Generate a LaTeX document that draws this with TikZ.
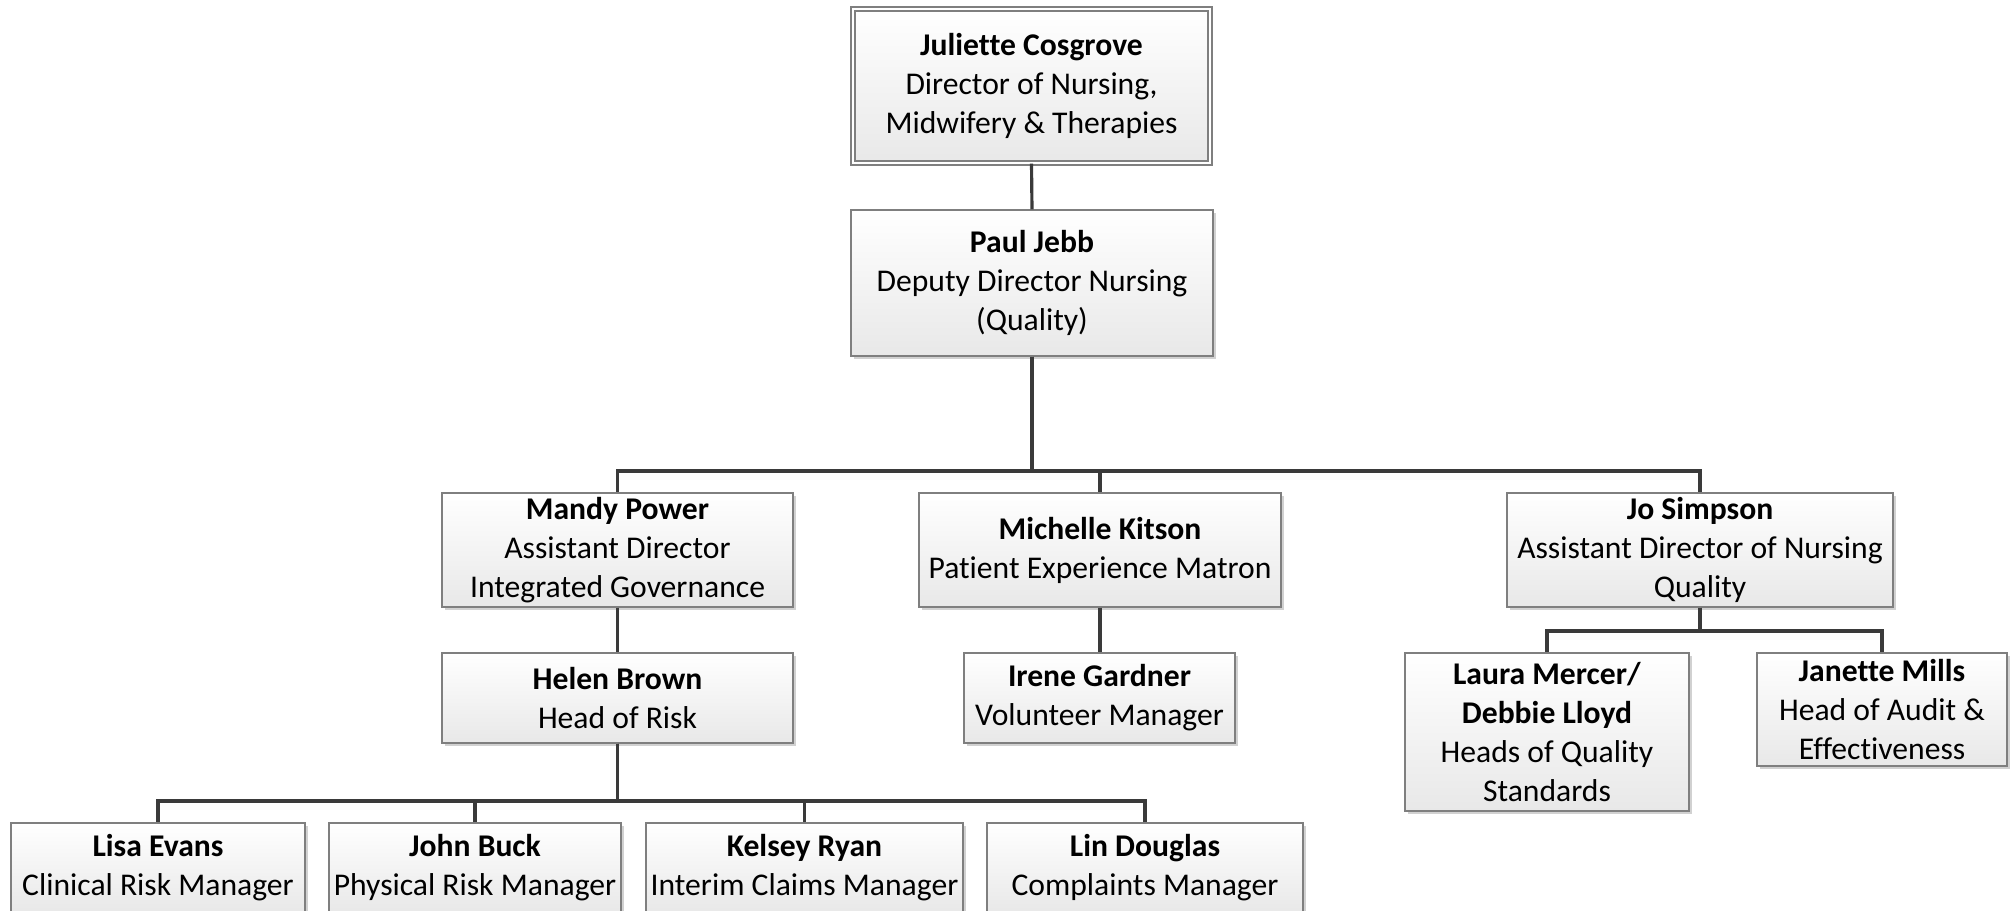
\documentclass[tikz,border=0pt]{standalone}
\usepackage{fontspec}
\setmainfont{Carlito}[Ligatures=NoCommon]
\usetikzlibrary{shadows}
\definecolor{boxline}{HTML}{7F7F7F}
\definecolor{wirecol}{HTML}{3A3A3A}
\begin{document}
\begin{tikzpicture}[x=0.02cm, y=-0.02cm,
  person/.style={draw=boxline, line width=0.8pt, top color=white, bottom color=black!9, align=center, inner sep=0pt,
    drop shadow={shadow xshift=0.05cm, shadow yshift=-0.05cm, fill=black!18, opacity=1},
    font=\fontsize{18}{22.2}\selectfont},
  chief/.style={person, double=white, double distance=1.4pt},
  wire/.style={draw=wirecol, line width=1.8pt},
  dims/.style 2 args={minimum width=#1*\PX cm, minimum height=#2*\PX cm}]

\def\PX{0.02}

\useasboundingbox (0,0) rectangle (2015,910);

% top of the tree
\node (julie) at (1031.5,86) [chief, dims={357}{154}] {\textbf{Juliette Cosgrove}\\Director of Nursing,\\Midwifery \& Therapies};
\node (paul) at (1032,283) [person, dims={362}{146}] {\textbf{Paul Jebb}\\Deputy Director Nursing\\(Quality)};

% assistant directors
\node (mandy) at (617.5,550) [person, dims={351}{114}] {\textbf{Mandy Power}\\Assistant Director\\Integrated Governance};
\node (michelle) at (1100,550) [person, dims={362}{114}] {\textbf{Michelle Kitson}\\Patient Experience Matron};
\node (jo) at (1700,550) [person, dims={386}{114}] {\textbf{Jo Simpson}\\Assistant Director of Nursing\\Quality};

% heads
\node (helen) at (617.5,698) [person, dims={351}{90}] {\textbf{Helen Brown}\\Head of Risk};
\node (irene) at (1099.5,698) [person, dims={271}{90}] {\textbf{Irene Gardner}\\Volunteer Manager};
\node (laura) at (1547,732) [person, dims={284}{158}] {\textbf{Laura Mercer/}\\\textbf{Debbie Lloyd}\\Heads of Quality\\Standards};
\node (janette) at (1882,709.5) [person, dims={250}{113}] {\textbf{Janette Mills}\\Head of Audit \&\\Effectiveness};

% managers
\node (lisa) at (158,868) [person, dims={294}{90}] {\textbf{Lisa Evans}\\Clinical Risk Manager};
\node (john) at (475,868) [person, dims={292}{90}] {\textbf{John Buck}\\Physical Risk Manager};
\node (kelsey) at (804.5,868) [person, dims={317}{90}] {\textbf{Kelsey Ryan}\\Interim Claims Manager};
\node (lin) at (1145,868) [person, dims={316}{90}] {\textbf{Lin Douglas}\\Complaints Manager};

% buses
\coordinate (busA) at (0,471);
\coordinate (busB) at (0,631);
\coordinate (busC) at (0,801);

\draw[wire] (julie.south) -- (paul.north);
\foreach \n in {mandy,michelle,jo}
  \draw[wire] (paul.south) -- (paul.south |- busA) -| (\n.north);
\draw[wire] (mandy.south) -- (helen.north);
\draw[wire] (michelle.south) -- (michelle.south |- irene.north);
\foreach \n in {laura,janette}
  \draw[wire] (jo.south) -- (jo.south |- busB) -| (\n.north);
\foreach \n in {lisa,john,kelsey,lin}
  \draw[wire] (helen.south) -- (helen.south |- busC) -| (\n.north);

\end{tikzpicture}
\end{document}
